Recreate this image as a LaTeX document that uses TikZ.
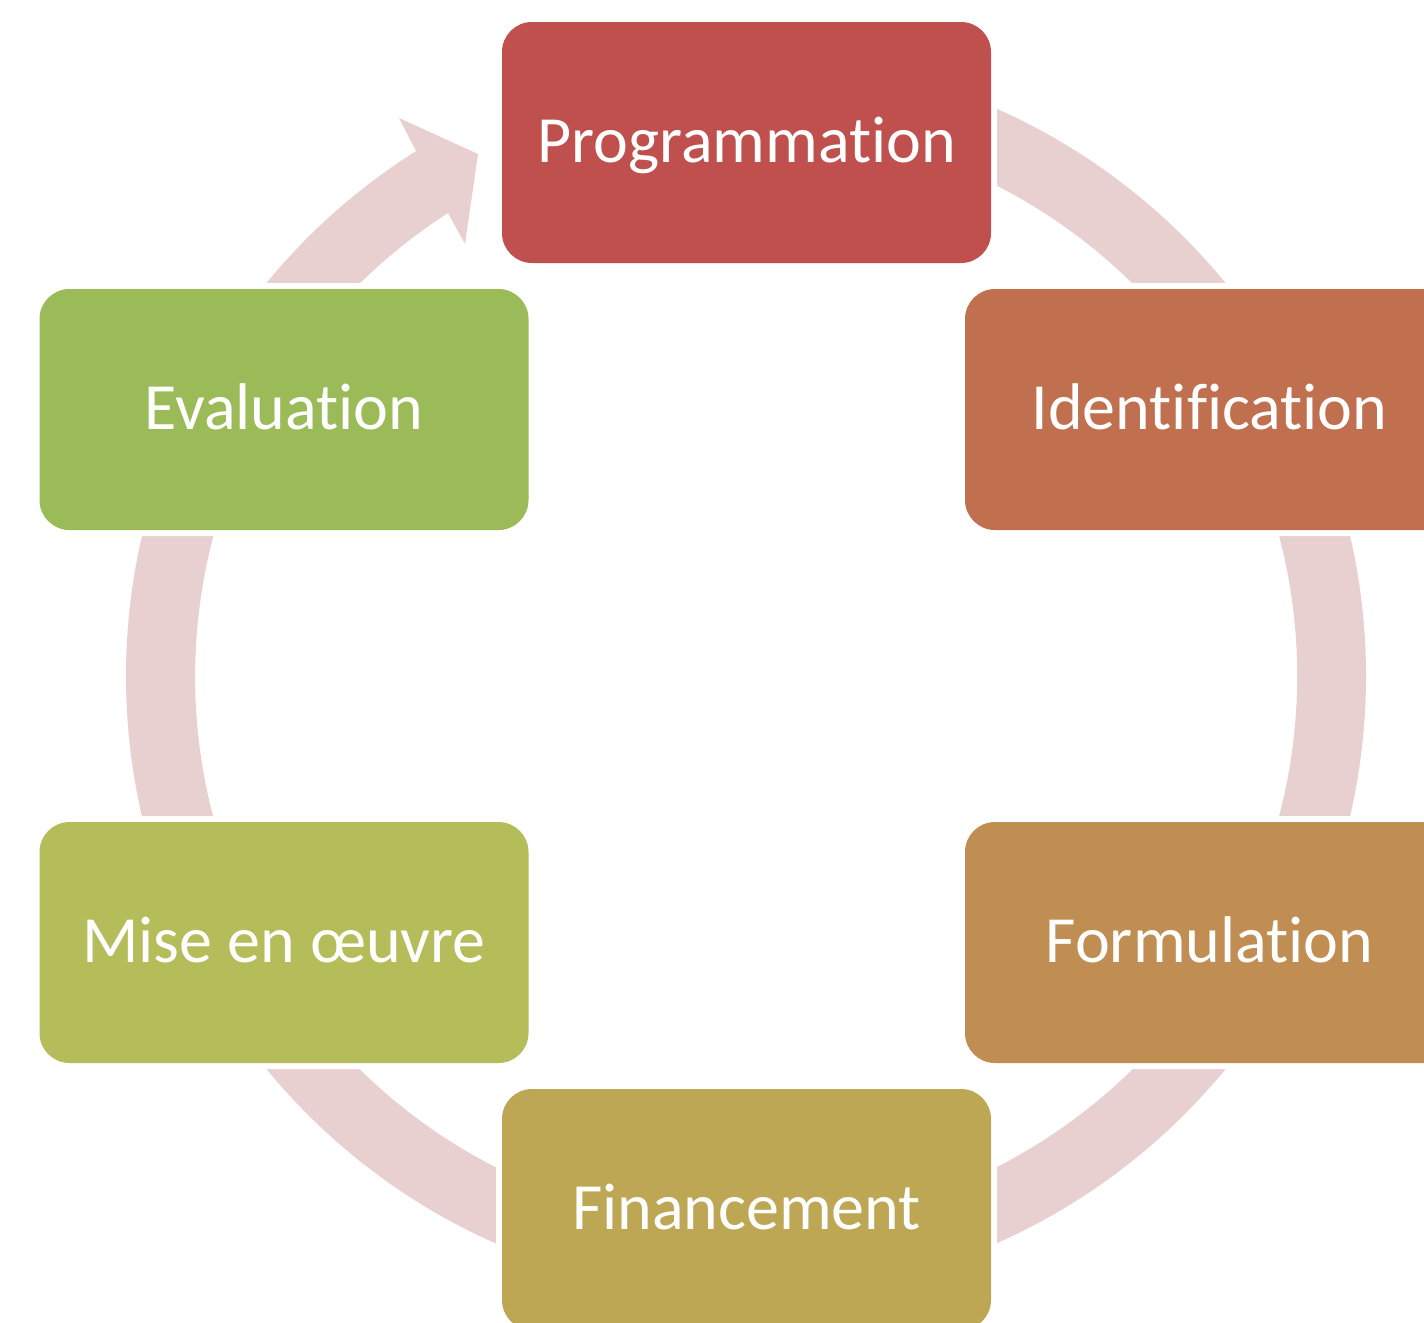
\documentclass[tikz,border=0pt]{standalone}
\usepackage{fontspec}
\setmainfont{Carlito}[Ligatures=NoCommon]
\definecolor{ringc}{HTML}{E8D0D1}
\definecolor{cProg}{HTML}{C0504D}
\definecolor{cIdent}{HTML}{C0704F}
\definecolor{cForm}{HTML}{C08E52}
\definecolor{cFin}{HTML}{BEA754}
\definecolor{cMise}{HTML}{B5BC5A}
\definecolor{cEval}{HTML}{9BBB59}
\begin{document}
\begin{tikzpicture}[x=0.75pt,y=0.75pt,
  box/.style={rounded corners=22.5pt, minimum width=366.75pt, minimum height=180.75pt,
    inner sep=0pt, text=white, font=\fontsize{49.5}{58}\selectfont,
    text height=29.25pt, text depth=0pt,
    preaction={draw=white, line width=9pt}}]
\useasboundingbox (0,0) rectangle (1424,-1322);
\clip (0,0) rectangle (1424,-1322);
% cycle ring with arrowhead
\fill[ringc] (746,-676) ++(90:620) arc[start angle=90, end angle=-237.85, radius=620]
  -- (399,-118) -- (478,-154) -- (465,-244) -- (448,-213)
  arc[start angle=-237.24, end angle=90, radius=551] -- cycle;
% boxes
\node[box, fill=cProg]  (prog)  at (746.5,-142.5)  {Programmation};
\node[box, fill=cIdent] (ident) at (1209.5,-409.5) {Identification};
\node[box, fill=cForm]  (form)  at (1209.5,-942.5) {Formulation};
\node[box, fill=cFin]   (fin)   at (746.5,-1209.5) {Financement};
\node[box, fill=cMise]  (mise)  at (284,-942.5)    {Mise en œuvre};
\node[box, fill=cEval]  (eval)  at (284,-409.5)    {Evaluation};
\end{tikzpicture}
\end{document}
